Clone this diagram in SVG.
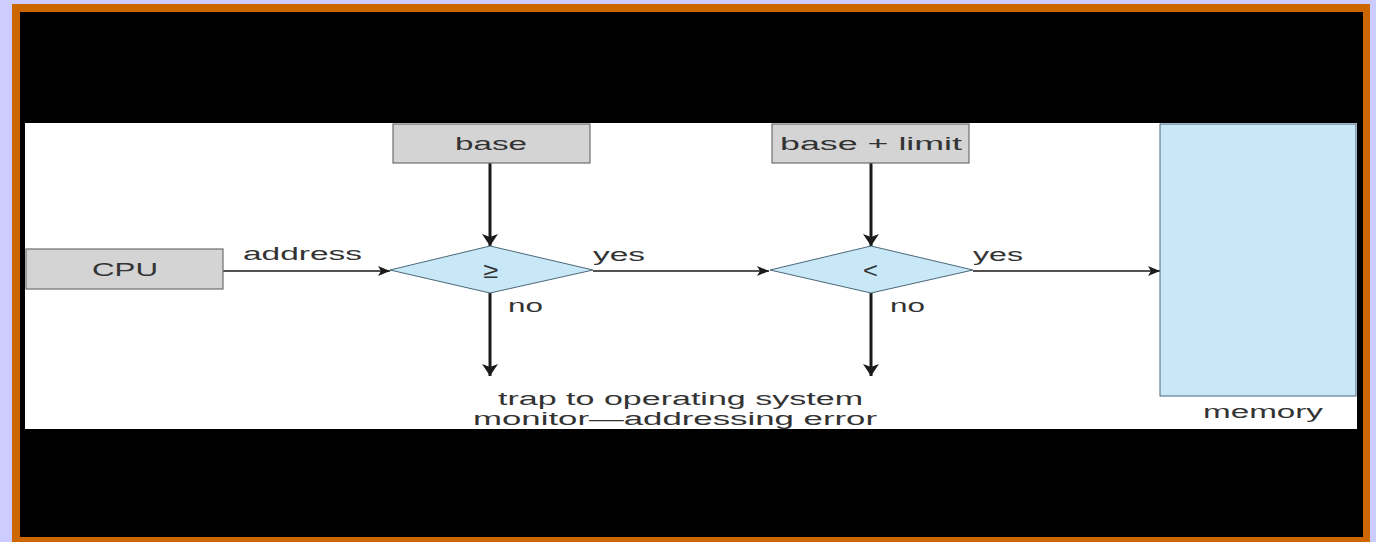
<svg xmlns="http://www.w3.org/2000/svg" width="1376" height="542" viewBox="0 0 1376 542">
  <defs>
    <marker id="ah" viewBox="0 0 12 10" refX="12" refY="5" markerWidth="12" markerHeight="10" markerUnits="userSpaceOnUse" orient="auto">
      <path d="M0,0 L12,5 L0,10 L3,5 Z" fill="#1a1a1a"/>
    </marker>
    <marker id="ahv" viewBox="0 0 12 16" refX="12" refY="8" markerWidth="12" markerHeight="16" markerUnits="userSpaceOnUse" orient="auto">
      <path d="M0,0 L12,8 L0,16 L3,8 Z" fill="#1a1a1a"/>
    </marker>
    <style>
      .lbl { font-family: "Liberation Sans", Arial, sans-serif; font-size: 18px; fill: #333333; }
      .op { font-family: "Liberation Sans", Arial, sans-serif; font-size: 22px; fill: #333333; }
      .box { fill: #d4d4d4; stroke: #6e6e6e; stroke-width: 1.2; }
      .dec { fill: #c8e8f8; stroke: #4a6878; stroke-width: 1; }
      .h { stroke: #1a1a1a; stroke-width: 1.6; fill: none; marker-end: url(#ah); }
      .v { stroke: #1a1a1a; stroke-width: 3; fill: none; marker-end: url(#ahv); }
    </style>
  </defs>

  <!-- slide frame -->
  <rect x="0" y="0" width="1376" height="542" fill="#ccccff"/>
  <rect x="12" y="4" width="1358" height="540" fill="#cc6600"/>
  <rect x="20" y="12" width="1343" height="525" fill="#000000"/>
  <rect x="25" y="123" width="1332" height="306" fill="#ffffff"/>

  <!-- connectors -->
  <g id="connectors">
    <line class="h" x1="223" y1="271" x2="390" y2="271"/>
    <line class="h" x1="593" y1="271" x2="769" y2="271"/>
    <line class="h" x1="973" y1="271" x2="1160" y2="271"/>
    <line class="v" x1="490" y1="163" x2="490" y2="246"/>
    <line class="v" x1="871" y1="163" x2="871" y2="246"/>
    <line class="v" x1="490" y1="293" x2="490" y2="376"/>
    <line class="v" x1="871" y1="293" x2="871" y2="376"/>
    <text class="lbl" x="243" y="260" textLength="119" lengthAdjust="spacingAndGlyphs">address</text>
    <text class="lbl" x="593" y="261" textLength="52" lengthAdjust="spacingAndGlyphs">yes</text>
    <text class="lbl" x="973" y="261" textLength="50" lengthAdjust="spacingAndGlyphs">yes</text>
    <text class="lbl" x="508" y="312" textLength="35" lengthAdjust="spacingAndGlyphs">no</text>
    <text class="lbl" x="890" y="312" textLength="35" lengthAdjust="spacingAndGlyphs">no</text>
  </g>

  <g id="cpu">
    <rect class="box" x="26" y="249" width="197" height="40"/>
    <text class="lbl" x="92" y="276" textLength="66" lengthAdjust="spacingAndGlyphs">CPU</text>
  </g>

  <g id="base">
    <rect class="box" x="393" y="124" width="197" height="39"/>
    <text class="lbl" x="455" y="150" textLength="72" lengthAdjust="spacingAndGlyphs">base</text>
  </g>

  <g id="base-limit">
    <rect class="box" x="772" y="124" width="197" height="39"/>
    <text class="lbl" x="780" y="150" textLength="182" lengthAdjust="spacingAndGlyphs">base + limit</text>
  </g>

  <g id="check-ge">
    <polygon class="dec" points="390,270 490,246 593,270 490,293"/>
    <text class="op" x="483" y="278" textLength="15" lengthAdjust="spacingAndGlyphs">≥</text>
  </g>

  <g id="check-lt">
    <polygon class="dec" points="770,270 871,246 973,270 871,293"/>
    <text class="op" x="863" y="278" textLength="15" lengthAdjust="spacingAndGlyphs">&lt;</text>
  </g>

  <g id="memory">
    <rect class="dec" x="1160" y="124" width="196" height="272" stroke="#6e7880"/>
    <text class="lbl" x="1203" y="418" textLength="120" lengthAdjust="spacingAndGlyphs">memory</text>
  </g>

  <g id="trap">
    <text class="lbl" x="498" y="405" textLength="365" lengthAdjust="spacingAndGlyphs">trap to operating system</text>
    <text class="lbl" x="473" y="425" textLength="404" lengthAdjust="spacingAndGlyphs">monitor—addressing error</text>
  </g>
</svg>
